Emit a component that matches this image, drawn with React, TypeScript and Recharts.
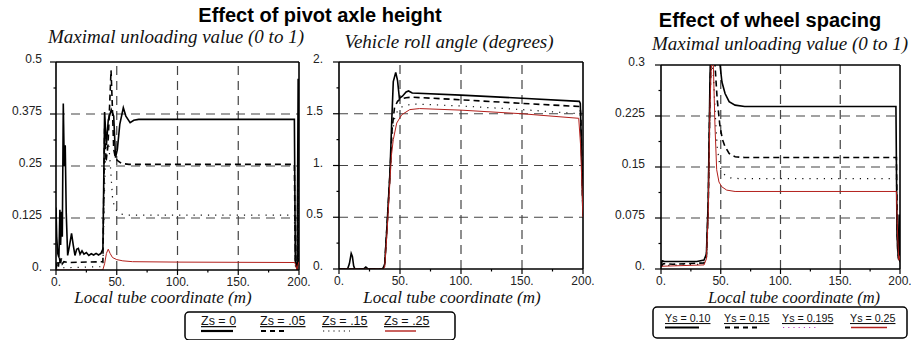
import React from 'react';
import { LineChart, Line, XAxis, YAxis, ReferenceLine } from 'recharts';

type Pt = [number, number];

// Effect of pivot axle height: maximal unloading value (0 to 1)
const unloadZs0: Pt[] = [
  [0, 0.15], [0.6, 0.08], [1.4, 0.04], [2.4, 0.03], [3.2, 0.145], [3.8, 0.06], [4.6, 0.14], [5.2, 0.08],
  [6, 0.4], [6.8, 0.25], [7.6, 0.3], [8.4, 0.14], [9.6, 0.035], [11.2, 0.06], [12.8, 0.088], [14.2, 0.06],
  [15.6, 0.035], [17, 0.05], [18.4, 0.052], [19.8, 0.038], [21.4, 0.046], [23, 0.038], [25, 0.042],
  [27, 0.035], [29, 0.039], [31, 0.036], [33, 0.04], [35, 0.036], [37, 0.04], [38.6, 0.05], [40, 0.38],
  [41.5, 0.3], [43, 0.36], [45.5, 0.385], [47.5, 0.37], [49, 0.27], [50.5, 0.29], [52.5, 0.35],
  [55.4, 0.39], [57.5, 0.37], [61, 0.354], [64, 0.36], [68, 0.362], [196.2, 0.362], [197, 0.02],
  [198.5, 0.0], [199.3, 0.46], [199.8, 0.02],
];
const unloadZs05: Pt[] = [
  [0, 0.005], [1.2, 0.02], [2, 0.008], [2.8, 0.03], [3.6, 0.012], [4.4, 0.028], [5.2, 0.015], [6.5, 0.02],
  [10, 0.018], [38.6, 0.02], [40, 0.34], [41.2, 0.26], [42.8, 0.3], [44.2, 0.4], [45.3, 0.48], [46.3, 0.4],
  [47.5, 0.29], [49, 0.268], [51, 0.262], [54, 0.256], [60, 0.254], [196.2, 0.254], [197, 0.02],
  [198.5, 0.005], [199.3, 0.3], [200, 0.02],
];
const unloadZs15: Pt[] = [
  [0, 0.005], [38.6, 0.008], [40, 0.2], [41.5, 0.33], [43, 0.32], [45, 0.24], [46.5, 0.175], [48, 0.152],
  [50, 0.142], [53, 0.135], [58, 0.132], [196.2, 0.132], [197, 0.01], [198.5, 0.0], [199.3, 0.2], [200, 0.01],
];
const unloadZs25: Pt[] = [
  [0, 0], [38.5, 0], [40, 0.015], [41.5, 0.04], [43, 0.05], [44.5, 0.04], [46.5, 0.03], [50, 0.025],
  [55, 0.022], [63, 0.02], [100, 0.019], [196.5, 0.018], [197.5, 0.01], [198.3, 0.0], [199, 0.01], [200, 0.02],
];

// Effect of pivot axle height: vehicle roll angle (degrees)
const rollZs0: Pt[] = [
  [0, 0], [7, 0], [8.5, 0.05], [10, 0.15], [11, 0.12], [12, 0.03], [13, 0], [20, 0], [22, 0.02], [24, 0],
  [36, 0], [37.5, 0.05], [39.5, 0.45], [41.8, 0.94], [43.2, 1.42], [44.5, 1.81], [46.5, 1.9], [48, 1.82],
  [49.5, 1.65], [52, 1.67], [55, 1.71], [57, 1.72], [60, 1.7], [100, 1.68], [150, 1.65], [197, 1.62],
  [197.8, 1.6], [200, 0.55],
];
const rollZs05: Pt[] = [
  [0, 0], [36, 0], [37.5, 0.05], [39.5, 0.45], [41.8, 0.92], [43.5, 1.35], [45.5, 1.56], [48, 1.62],
  [50, 1.64], [55, 1.655], [60, 1.66], [100, 1.635], [150, 1.6], [197.5, 1.57], [198.2, 1.5], [200, 0.5],
];
const rollZs15: Pt[] = [
  [0, 0], [36, 0], [37.5, 0.04], [39.5, 0.42], [41.8, 0.9], [43.5, 1.28], [45.5, 1.45], [48, 1.53],
  [52, 1.57], [60, 1.595], [100, 1.575], [150, 1.54], [197.5, 1.5], [198.2, 1.4], [200, 0.5],
];
const rollZs25: Pt[] = [
  [0, 0], [36, 0], [37.5, 0.02], [39.5, 0.38], [41.8, 0.86], [43, 1.1], [44.5, 1.25], [47.3, 1.41],
  [51.4, 1.49], [58, 1.54], [66, 1.55], [100, 1.535], [150, 1.5], [196.5, 1.456], [198, 1.2], [200, 0.5],
];

// Effect of wheel spacing: maximal unloading value (0 to 1)
const spacingYs10: Pt[] = [
  [0, 0.004], [1, 0.012], [3, 0.011], [10, 0.011], [30, 0.011], [36, 0.013], [38, 0.022], [39.5, 0.1],
  [41, 0.28], [42, 0.36], [45, 0.4], [48, 0.33], [49.4, 0.3], [51, 0.275], [53.6, 0.258], [57, 0.246],
  [62, 0.241], [70, 0.239], [196.6, 0.239], [197.5, 0.05], [198.5, 0.018], [199.3, 0.08], [200, 0.01],
];
const spacingYs15: Pt[] = [
  [0, 0.003], [2, 0.008], [10, 0.007], [36, 0.009], [38, 0.018], [39.5, 0.09], [41, 0.26], [42, 0.32],
  [44, 0.33], [45.2, 0.3], [47, 0.25], [49.4, 0.209], [51.5, 0.19], [53.6, 0.18], [57, 0.17], [62, 0.165],
  [70, 0.164], [197, 0.164], [198, 0.03], [199, 0.012], [200, 0.02],
];
const spacingYs195: Pt[] = [
  [0, 0.005], [36, 0.007], [38, 0.015], [39.5, 0.08], [41, 0.25], [42.5, 0.31], [44, 0.28], [45.2, 0.234],
  [47, 0.18], [49.4, 0.15], [51.5, 0.142], [53.6, 0.138], [58, 0.134], [65, 0.133], [197, 0.133],
  [198, 0.02], [199, 0.01], [200, 0.02],
];
const spacingYs25: Pt[] = [
  [0, 0.004], [36, 0.006], [38, 0.015], [39.5, 0.08], [41, 0.24], [42.5, 0.32], [43.8, 0.3], [45.2, 0.209],
  [46.6, 0.146], [48.5, 0.128], [50.8, 0.121], [55, 0.116], [62, 0.114], [197, 0.114], [198, 0.05],
  [199, 0.013], [200, 0.02],
];

const pivotNames = ['Zs = 0', 'Zs = .05', 'Zs = .15', 'Zs = .25'];
const spacingNames = ['Ys = 0.10', 'Ys = 0.15', 'Ys = 0.195', 'Ys = 0.25'];

const xTicks = [0, 25, 50, 75, 100, 125, 150, 175, 200];
const xMajor = [0, 50, 100, 150, 200];
const xLabels = ['0.', '50.', '100.', '150.', '200.'];

const unloadTicks = [0, 0.0625, 0.125, 0.1875, 0.25, 0.3125, 0.375, 0.4375, 0.5];
const unloadMajor = [0, 0.125, 0.25, 0.375, 0.5];
const unloadLabels = ['0.', '0.125', '0.25', '0.375', '0.5'];

const rollTicks = [0, 0.25, 0.5, 0.75, 1, 1.25, 1.5, 1.75, 2];
const rollMajor = [0, 0.5, 1, 1.5, 2];
const rollLabels = ['0.', '0.5', '1.', '1.5', '2.'];

const spacingTicks = [0, 0.0375, 0.075, 0.1125, 0.15, 0.1875, 0.225, 0.2625, 0.3];
const spacingMajor = [0, 0.075, 0.15, 0.225, 0.3];
const spacingLabels = ['0.', '0.075', '0.15', '0.225', '0.3'];

// line looks: solid, dashed, dotted, thin red
const lineLooks = [
  { stroke: '#000', width: 1.6, dash: undefined as string | undefined },
  { stroke: '#000', width: 1.6, dash: '6 4' },
  { stroke: '#111', width: 1.2, dash: '1.2 6' },
  { stroke: '#b3201c', width: 1, dash: undefined as string | undefined },
];

const SANS = 'Liberation Sans, Arial, Helvetica, sans-serif';
const SERIF = 'Liberation Serif, Times New Roman, DejaVu Serif, serif';
const sans = { fontFamily: SANS };
const serifIt = { fontFamily: SERIF, fontStyle: 'italic' as const };

const toRows = (pts: Pt[]) => pts.map(([x, y]) => ({ x, y }));
const findIdx = (list: number[], v: number) => list.findIndex((m) => Math.abs(m - v) < 1e-9);

interface PanelProps {
  left: number;
  top: number;
  plotW: number;
  plotH: number;
  yMax: number;
  yTicks: number[];
  yMajor: number[];
  yLabels: string[];
  labelGap: number;
  series: Pt[][];
}

const Panel: React.FC<PanelProps> = ({ left, top, plotW, plotH, yMax, yTicks, yMajor, yLabels, labelGap, series }) => {
  const yw = 60;
  const mt = 10;
  const mr = 22;
  const xh = 30;

  const renderXTick = (p: any) => {
    const i = findIdx(xMajor, p.payload.value);
    return (
      <g>
        <line x1={p.x} x2={p.x} y1={p.y} y2={p.y + (i >= 0 ? 5 : 2.5)} stroke="#000" strokeWidth={1.2} />
        {i >= 0 && (
          <text x={p.x} y={p.y + 15.5} textAnchor="middle" fontSize={12} style={sans} fill="#222">
            {xLabels[i]}
          </text>
        )}
      </g>
    );
  };

  const renderYTick = (p: any) => {
    const i = findIdx(yMajor, p.payload.value);
    return (
      <g>
        <line x1={p.x} x2={p.x - (i >= 0 ? 6 : 2.5)} y1={p.y} y2={p.y} stroke="#000" strokeWidth={1.2} />
        {i >= 0 && (
          <text x={p.x - labelGap} y={p.y + 1} textAnchor="end" fontSize={12} style={sans} fill="#222">
            {yLabels[i]}
          </text>
        )}
      </g>
    );
  };

  const gridY = yMajor.filter((v) => v > 0 && v < yMax);

  return (
    <div style={{ position: 'absolute', left: left - yw, top: top - mt }}>
      <LineChart width={plotW + yw + mr} height={plotH + mt + xh} margin={{ top: mt, right: mr, bottom: 0, left: 0 }}>
        <XAxis
          type="number"
          dataKey="x"
          domain={[0, 200]}
          ticks={xTicks}
          interval={0}
          height={xh}
          tickSize={0}
          tickMargin={0}
          tickLine={false}
          axisLine={{ stroke: '#000', strokeWidth: 1.6 }}
          tick={renderXTick}
          allowDataOverflow
        />
        <YAxis
          type="number"
          dataKey="y"
          domain={[0, yMax]}
          ticks={yTicks}
          interval={0}
          width={yw}
          tickSize={0}
          tickMargin={0}
          tickLine={false}
          axisLine={{ stroke: '#000', strokeWidth: 1.6 }}
          tick={renderYTick}
          allowDataOverflow
        />
        {gridY.map((v) => (
          <ReferenceLine key={`gy${v}`} y={v} stroke="#444" strokeWidth={1.2} strokeDasharray="9 6" />
        ))}
        {[50, 100, 150].map((v) => (
          <ReferenceLine key={`gx${v}`} x={v} stroke="#444" strokeWidth={1.2} strokeDasharray="9 6" />
        ))}
        <ReferenceLine y={yMax} stroke="#000" strokeWidth={1.6} />
        <ReferenceLine x={200} stroke="#000" strokeWidth={1.6} />
        {series.map((pts, i) => (
          <Line
            key={i}
            data={toRows(pts)}
            dataKey="y"
            type="linear"
            dot={false}
            activeDot={false}
            stroke={lineLooks[i].stroke}
            strokeWidth={lineLooks[i].width}
            strokeDasharray={lineLooks[i].dash}
            isAnimationActive={false}
          />
        ))}
      </LineChart>
    </div>
  );
};

interface LegendProps {
  box: { x: number; y: number; w: number; h: number };
  names: string[];
  offsets: number[];
  sampleW: number[];
  textY: number;
  lineY: number;
  fontSize: number;
  dottedColor: string;
}

const LegendBox: React.FC<LegendProps> = ({ box, names, offsets, sampleW, textY, lineY, fontSize, dottedColor }) => (
  <g>
    <rect x={box.x} y={box.y} width={box.w} height={box.h} rx={4} fill="#fff" stroke="#000" strokeWidth={1.5} />
    {names.map((n, i) => {
      const x0 = box.x + offsets[i];
      const look = lineLooks[i];
      return (
        <g key={n}>
          <text x={x0} y={textY} fontSize={fontSize} style={sans} fill="#111" textDecoration="underline">
            {n}
          </text>
          <line
            x1={x0 + (i === 0 ? 0 : 1)}
            x2={x0 + sampleW[i]}
            y1={lineY}
            y2={lineY}
            stroke={i === 2 ? dottedColor : look.stroke}
            strokeWidth={i === 3 ? 1.4 : i === 2 ? 1.2 : 2.2}
            strokeDasharray={i === 1 ? '5 4' : i === 2 ? '1.2 4' : undefined}
          />
        </g>
      );
    })}
  </g>
);

const App: React.FC = () => {
  return (
    <div style={{ position: 'absolute', left: 0, top: 0, width: 911, height: 340, background: '#fff', overflow: 'hidden' }}>
      <Panel
        left={56}
        top={62}
        plotW={243}
        plotH={208}
        yMax={0.5}
        yTicks={unloadTicks}
        yMajor={unloadMajor}
        yLabels={unloadLabels}
        labelGap={14}
        series={[unloadZs0, unloadZs05, unloadZs15, unloadZs25]}
      />
      <Panel
        left={339}
        top={62}
        plotW={244}
        plotH={207}
        yMax={2}
        yTicks={rollTicks}
        yMajor={rollMajor}
        yLabels={rollLabels}
        labelGap={16}
        series={[rollZs0, rollZs05, rollZs15, rollZs25]}
      />
      <Panel
        left={661}
        top={65}
        plotW={239}
        plotH={204}
        yMax={0.3}
        yTicks={spacingTicks}
        yMajor={spacingMajor}
        yLabels={spacingLabels}
        labelGap={16}
        series={[spacingYs10, spacingYs15, spacingYs195, spacingYs25]}
      />
      <svg width={911} height={340} style={{ position: 'absolute', left: 0, top: 0, pointerEvents: 'none' }}>
        <text x={320} y={22} textAnchor="middle" fontSize={20} fontWeight="bold" style={sans} fill="#000">
          Effect of pivot axle height
        </text>
        <text x={770} y={27} textAnchor="middle" fontSize={20} fontWeight="bold" style={sans} fill="#000">
          Effect of wheel spacing
        </text>
        <text x={176} y={43} textAnchor="middle" fontSize={19} style={serifIt} fill="#111">
          Maximal unloading value (0 to 1)
        </text>
        <text x={449} y={48} textAnchor="middle" fontSize={19} style={serifIt} fill="#111">
          Vehicle roll angle (degrees)
        </text>
        <text x={780} y={50} textAnchor="middle" fontSize={19} style={serifIt} fill="#111">
          Maximal unloading value (0 to 1)
        </text>
        <text x={163} y={303} textAnchor="middle" fontSize={17} style={serifIt} fill="#111">
          Local tube coordinate (m)
        </text>
        <text x={452} y={303} textAnchor="middle" fontSize={17} style={serifIt} fill="#111">
          Local tube coordinate (m)
        </text>
        <text x={794} y={302.5} textAnchor="middle" fontSize={16.5} style={serifIt} fill="#111">
          Local tube coordinate (m)
        </text>
        <LegendBox
          box={{ x: 185, y: 312, w: 270, h: 28 }}
          names={pivotNames}
          offsets={[16, 75, 137, 199]}
          sampleW={[32, 28, 28, 32]}
          textY={325}
          lineY={331}
          fontSize={12.5}
          dottedColor="#111"
        />
        <LegendBox
          box={{ x: 653, y: 307, w: 254, h: 31 }}
          names={spacingNames}
          offsets={[12, 71, 129, 197]}
          sampleW={[34, 34, 36, 37]}
          textY={322}
          lineY={327.5}
          fontSize={10.7}
          dottedColor="#c040c0"
        />
      </svg>
    </div>
  );
};

export default App;
